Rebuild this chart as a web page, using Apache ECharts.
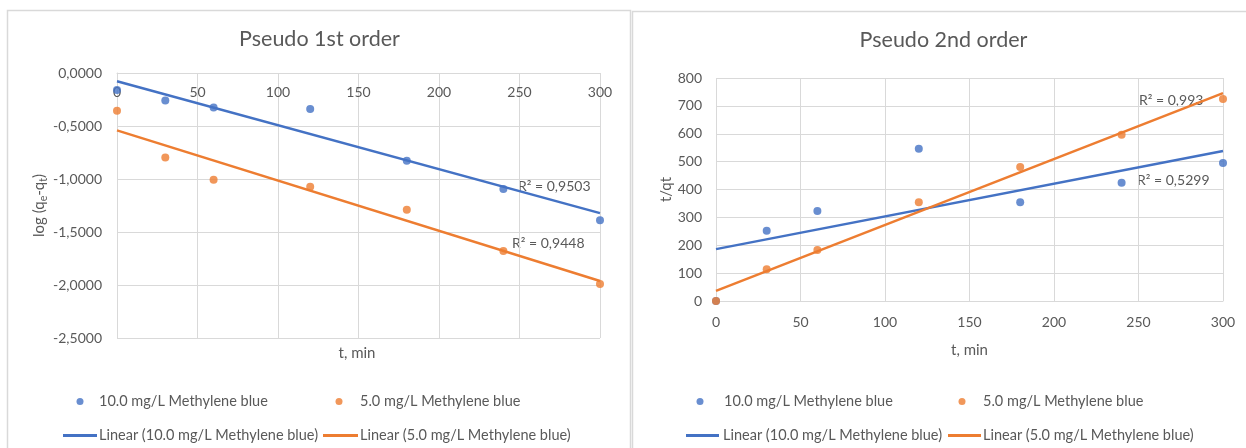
<!DOCTYPE html>
<html>
<head>
<meta charset="utf-8">
<script src="https://cdn.jsdelivr.net/npm/echarts@6/dist/echarts.min.js"></script>
<style>
  html, body { margin: 0; padding: 0; background: #ffffff; }
  #chart { width: 1246px; height: 448px; }
</style>
</head>
<body>
<div id="chart"></div>
<script>
// Sampling times (min)
const times = [0, 30, 60, 120, 180, 240, 300];

// Pseudo first order: log(qe - qt)
const first10 = [-0.16, -0.26, -0.325, -0.34, -0.829, -1.094, -1.39];
const first5 = [-0.356, -0.798, -1.008, -1.074, -1.29, -1.68, -1.99];

// Pseudo second order: t/qt
const second10 = [0, 252, 323, 546, 354, 424, 495];
const second5 = [0, 114, 183, 354, 481, 596, 725];

// Series names and fitted R² values
const seriesNames = ['10.0 mg/L Methylene blue', '5.0 mg/L Methylene blue'];
const trendNames = ['Linear (10.0 mg/L Methylene blue)', 'Linear (5.0 mg/L Methylene blue)'];
const r2First = ['R² = 0,9503', 'R² = 0,9448'];
const r2Second = ['R² = 0,993', 'R² = 0,5299'];

// Axis ticks
const xTicks = { min: 0, max: 300, interval: 50 };
const yFirstTicks = { min: -2.5, max: 0, interval: 0.5 };
const ySecondTicks = { min: 0, max: 800, interval: 100 };

const FONT = 'Lato, "Noto Sans", sans-serif';
const TXT = '#595959';
const GRID = '#d9d9d9';
const BLUE = '#4472C4';
const ORANGE = '#ED7D31';

const TICK_SIZE = 14;
const LEGEND_SIZE = 14.5;
const NAME_SIZE = 15;
const TITLE_SIZE = 21.5;

// Least-squares straight line through the points, drawn across the time range
function trend(xs, ys) {
  const n = xs.length;
  const mx = xs.reduce((a, b) => a + b, 0) / n;
  const my = ys.reduce((a, b) => a + b, 0) / n;
  let sxy = 0, sxx = 0;
  for (let i = 0; i < n; i++) {
    sxy += (xs[i] - mx) * (ys[i] - my);
    sxx += (xs[i] - mx) * (xs[i] - mx);
  }
  const m = sxy / sxx;
  const b = my - m * mx;
  const x0 = Math.min(...xs), x1 = Math.max(...xs);
  return [[x0, b + m * x0], [x1, b + m * x1]];
}

const pairs = (xs, ys) => xs.map((x, i) => [x, ys[i]]);
const decComma = (v) => v.toFixed(4).replace('.', ',');

function scatter(name, idx, data, color) {
  return {
    type: 'scatter', name, xAxisIndex: idx, yAxisIndex: idx,
    data, symbol: 'circle', symbolSize: 8,
    itemStyle: { color }, z: 3, silent: true
  };
}
function line(name, idx, data, color) {
  return {
    type: 'line', name, xAxisIndex: idx, yAxisIndex: idx,
    data, showSymbol: false, symbol: 'none',
    lineStyle: { color, width: 2.5 }, itemStyle: { color }, z: 4, silent: true
  };
}

const labelStyle = { color: TXT, fontFamily: FONT, fontSize: TICK_SIZE };

// One legend entry: a dot centred at cx, or a short line from x0 to x1; text starts at tx
function dotLegend(name, cx, tx, top) {
  const left = cx - 3.5;
  return {
    data: [{ name, icon: 'circle' }],
    left, top, padding: 0, itemWidth: 7, itemHeight: 7, selectedMode: false,
    textStyle: { color: TXT, fontFamily: FONT, fontSize: LEGEND_SIZE,
      padding: [0, 0, 0, tx - (left + 7 + 5)] }
  };
}
function lineLegend(name, x0, x1, tx, top) {
  return {
    data: [{ name, icon: 'rect' }],
    left: x0, top, padding: 0, itemWidth: x1 - x0, itemHeight: 3, selectedMode: false,
    textStyle: { color: TXT, fontFamily: FONT, fontSize: LEGEND_SIZE,
      padding: [0, 0, 0, tx - (x1 + 5)] }
  };
}

const chart = echarts.init(document.getElementById('chart'), null, { renderer: 'canvas' });

chart.setOption({
  backgroundColor: '#ffffff',
  animation: false,
  textStyle: { fontFamily: FONT },
  title: [
    { text: 'Pseudo 1st order', left: 319.5, top: 28, textAlign: 'center', padding: 0,
      textStyle: { color: TXT, fontFamily: FONT, fontSize: TITLE_SIZE, fontWeight: 'normal' } },
    { text: 'Pseudo 2nd order', left: 943.5, top: 29, textAlign: 'center', padding: 0,
      textStyle: { color: TXT, fontFamily: FONT, fontSize: TITLE_SIZE, fontWeight: 'normal' } }
  ],
  legend: [
    dotLegend(seriesNames[0], 80, 99, 394),
    dotLegend(seriesNames[1], 339, 360, 394),
    lineLegend(trendNames[0], 63, 97, 99, 428),
    lineLegend(trendNames[1], 323, 358, 360, 428),
    dotLegend(seriesNames[0], 700, 724, 394),
    dotLegend(seriesNames[1], 962, 983, 394),
    lineLegend(trendNames[0], 686, 719, 723, 428),
    lineLegend(trendNames[1], 948, 981, 983, 428)
  ],
  grid: [
    { left: 117, top: 73, width: 483, height: 265, containLabel: false },
    { left: 716, top: 78, width: 507, height: 223, containLabel: false }
  ],
  xAxis: [
    {
      gridIndex: 0, type: 'value', position: 'top',
      min: xTicks.min, max: xTicks.max, interval: xTicks.interval,
      axisLine: { show: true, onZero: false, lineStyle: { color: GRID, width: 1 } },
      axisTick: { show: false },
      axisLabel: Object.assign({ inside: true, margin: 12 }, labelStyle),
      splitLine: { show: true, lineStyle: { color: GRID, width: 1 } }
    },
    {
      gridIndex: 1, type: 'value', position: 'bottom',
      min: xTicks.min, max: xTicks.max, interval: xTicks.interval,
      name: 't, min', nameLocation: 'middle', nameGap: 42,
      nameTextStyle: { color: TXT, fontFamily: FONT, fontSize: NAME_SIZE },
      axisLine: { show: true, onZero: false, lineStyle: { color: GRID, width: 1 } },
      axisTick: { show: false },
      axisLabel: Object.assign({ margin: 14 }, labelStyle),
      splitLine: { show: true, lineStyle: { color: GRID, width: 1 } }
    }
  ],
  yAxis: [
    {
      gridIndex: 0, type: 'value',
      min: yFirstTicks.min, max: yFirstTicks.max, interval: yFirstTicks.interval,
      name: '{n|log (q}{s|e}{n|-q}{s|t}{n|)}', nameLocation: 'middle', nameGap: 66, nameRotate: 90,
      nameTextStyle: {
        color: TXT, fontFamily: FONT, fontSize: NAME_SIZE,
        rich: {
          n: { color: TXT, fontFamily: FONT, fontSize: NAME_SIZE, lineHeight: 20, verticalAlign: 'middle' },
          s: { color: TXT, fontFamily: FONT, fontSize: 10.5, lineHeight: 10, verticalAlign: 'bottom' }
        }
      },
      axisLine: { show: true, onZero: false, lineStyle: { color: GRID, width: 1 } },
      axisTick: { show: false },
      axisLabel: Object.assign({ margin: 15, formatter: decComma }, labelStyle),
      splitLine: { show: true, lineStyle: { color: GRID, width: 1 } }
    },
    {
      gridIndex: 1, type: 'value',
      min: ySecondTicks.min, max: ySecondTicks.max, interval: ySecondTicks.interval,
      name: 't/qt', nameLocation: 'middle', nameGap: 40, nameRotate: 90,
      nameTextStyle: { color: TXT, fontFamily: FONT, fontSize: NAME_SIZE },
      axisLine: { show: false },
      axisTick: { show: false },
      axisLabel: Object.assign({ margin: 14 }, labelStyle),
      splitLine: { show: true, lineStyle: { color: GRID, width: 1 } }
    }
  ],
  series: [
    scatter(seriesNames[0], 0, pairs(times, first10), BLUE),
    scatter(seriesNames[1], 0, pairs(times, first5), ORANGE),
    line(trendNames[0], 0, trend(times, first10), BLUE),
    line(trendNames[1], 0, trend(times, first5), ORANGE),
    scatter(seriesNames[0], 1, pairs(times, second10), BLUE),
    scatter(seriesNames[1], 1, pairs(times, second5), ORANGE),
    line(trendNames[0], 1, trend(times, second10), BLUE),
    line(trendNames[1], 1, trend(times, second5), ORANGE)
  ],
  graphic: [
    // panel frames
    { type: 'rect', shape: { x: 7.5, y: 10.5, width: 623, height: 460 },
      style: { fill: null, stroke: GRID, lineWidth: 1.5 }, silent: true, z: 0 },
    { type: 'rect', shape: { x: 632.5, y: 11.5, width: 640, height: 460 },
      style: { fill: null, stroke: GRID, lineWidth: 1.5 }, silent: true, z: 0 },
    // x-axis title of the first-order panel (its axis line sits on top)
    { type: 'text', x: 357, y: 353,
      style: { text: 't, min', fill: TXT, font: NAME_SIZE + 'px ' + FONT, align: 'center', verticalAlign: 'middle' } },
    // coefficient of determination labels
    { type: 'text', x: 518, y: 186,
      style: { text: r2First[0], fill: TXT, font: TICK_SIZE + 'px ' + FONT, align: 'left', verticalAlign: 'middle' } },
    { type: 'text', x: 512, y: 243,
      style: { text: r2First[1], fill: TXT, font: TICK_SIZE + 'px ' + FONT, align: 'left', verticalAlign: 'middle' } },
    { type: 'text', x: 1139, y: 100,
      style: { text: r2Second[0], fill: TXT, font: TICK_SIZE + 'px ' + FONT, align: 'left', verticalAlign: 'middle' } },
    { type: 'text', x: 1137, y: 180,
      style: { text: r2Second[1], fill: TXT, font: TICK_SIZE + 'px ' + FONT, align: 'left', verticalAlign: 'middle' } }
  ]
});
</script>
</body>
</html>
